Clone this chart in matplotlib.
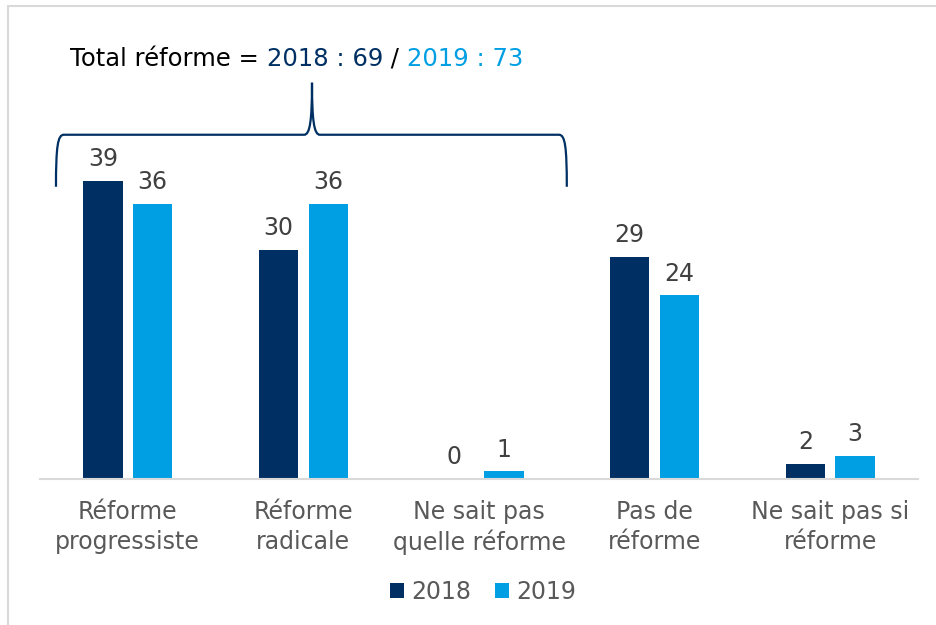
import numpy as np
import matplotlib.pyplot as plt
from matplotlib.path import Path
from matplotlib.patches import PathPatch, Rectangle

# Données
categories = ['Réforme\nprogressiste', 'Réforme\nradicale', 'Ne sait pas\nquelle réforme',
              'Pas de\nréforme', 'Ne sait pas si\nréforme']
valeurs_2018 = [39, 30, 0, 29, 2]
valeurs_2019 = [36, 36, 1, 24, 3]
series = ['2018', '2019']
total_2018 = 69
total_2019 = 73

bleu_fonce = '#003063'
bleu_clair = '#009FE3'
gris_texte = '#404040'

plt.rcParams['font.family'] = ['DejaVu Sans']
fs = 17

fig = plt.figure(figsize=(9.36, 6.25), dpi=100)
ax = fig.add_axes([40 / 936, 146 / 625, 878 / 936, 459 / 625])

x = np.arange(len(categories))
bar_width = 0.225
decalage = 0.142

b1 = ax.bar(x - decalage, valeurs_2018, width=bar_width, color=bleu_fonce, label=series[0])
b2 = ax.bar(x + decalage, valeurs_2019, width=bar_width, color=bleu_clair, label=series[1])

for barres in (b1, b2):
    for rect in barres:
        h = rect.get_height()
        ax.annotate(f'{h:.0f}', (rect.get_x() + rect.get_width() / 2, h),
                    xytext=(0, 7), textcoords='offset points',
                    ha='center', va='bottom', fontsize=fs, color=gris_texte)

ax.set_xlim(-0.5, 4.5)
ax.set_ylim(0, 60)
ax.set_xticks(x)
ax.set_xticklabels(categories, fontsize=fs, color='#595959', linespacing=1.3)
ax.tick_params(axis='x', length=0, pad=15)
ax.set_yticks([])
for s in ['top', 'right', 'left']:
    ax.spines[s].set_visible(False)
ax.spines['bottom'].set_color('#d9d9d9')
ax.spines['bottom'].set_linewidth(1.5)

# Accolade au-dessus des réformes
xl, xr, xt = -0.409, 2.50, 1.049
yb, yh, ytop = 38.2, 45.0, 51.8
dx = 0.045
verts = [
    (xl, yb), (xl, yh - 1.5), (xl + 0.01, yh), (xl + dx, yh),
    (xt - dx, yh),
    (xt - 0.012, yh), (xt, yh + 1.8), (xt, ytop),
    (xt, yh + 1.8), (xt + 0.012, yh), (xt + dx, yh),
    (xr - dx, yh),
    (xr - 0.01, yh), (xr, yh - 1.5), (xr, yb),
]
codes = [Path.MOVETO, Path.CURVE4, Path.CURVE4, Path.CURVE4,
         Path.LINETO,
         Path.CURVE4, Path.CURVE4, Path.CURVE4,
         Path.CURVE4, Path.CURVE4, Path.CURVE4,
         Path.LINETO,
         Path.CURVE4, Path.CURVE4, Path.CURVE4]
ax.add_patch(PathPatch(Path(verts, codes), fill=False, edgecolor=bleu_fonce,
                       linewidth=1.6, clip_on=False))

# Titre multicolore
fs_titre = 17.5
t1 = fig.text(70 / 936, 1 - 66 / 625, 'Total réforme = ', fontsize=fs_titre, color='black',
              ha='left', va='baseline')
t2 = ax.annotate(f'{series[0]} : {total_2018}', xy=(1, 0), xycoords=t1,
                 fontsize=fs_titre, color=bleu_fonce, ha='left', va='bottom')
t3 = ax.annotate(' / ', xy=(1, 0), xycoords=t2,
                 fontsize=fs_titre, color='black', ha='left', va='bottom')
ax.annotate(f'{series[1]} : {total_2019}', xy=(1, 0), xycoords=t3,
            fontsize=fs_titre, color=bleu_clair, ha='left', va='bottom')

leg = fig.legend(handles=[b1, b2], loc='center', bbox_to_anchor=(483 / 936, 1 - 592 / 625),
                 ncol=2, frameon=False, fontsize=fs, handlelength=0.6, handleheight=0.6,
                 handletextpad=0.3, columnspacing=1.0)
for t in leg.get_texts():
    t.set_color('#595959')

# Cadre gris
fig.patches.append(Rectangle((8 / 936, -0.05), 1.0, 1.05 - 6 / 625, transform=fig.transFigure,
                             fill=False, edgecolor='#d9d9d9', linewidth=1.5))

fig.savefig('out.png', dpi=100)
